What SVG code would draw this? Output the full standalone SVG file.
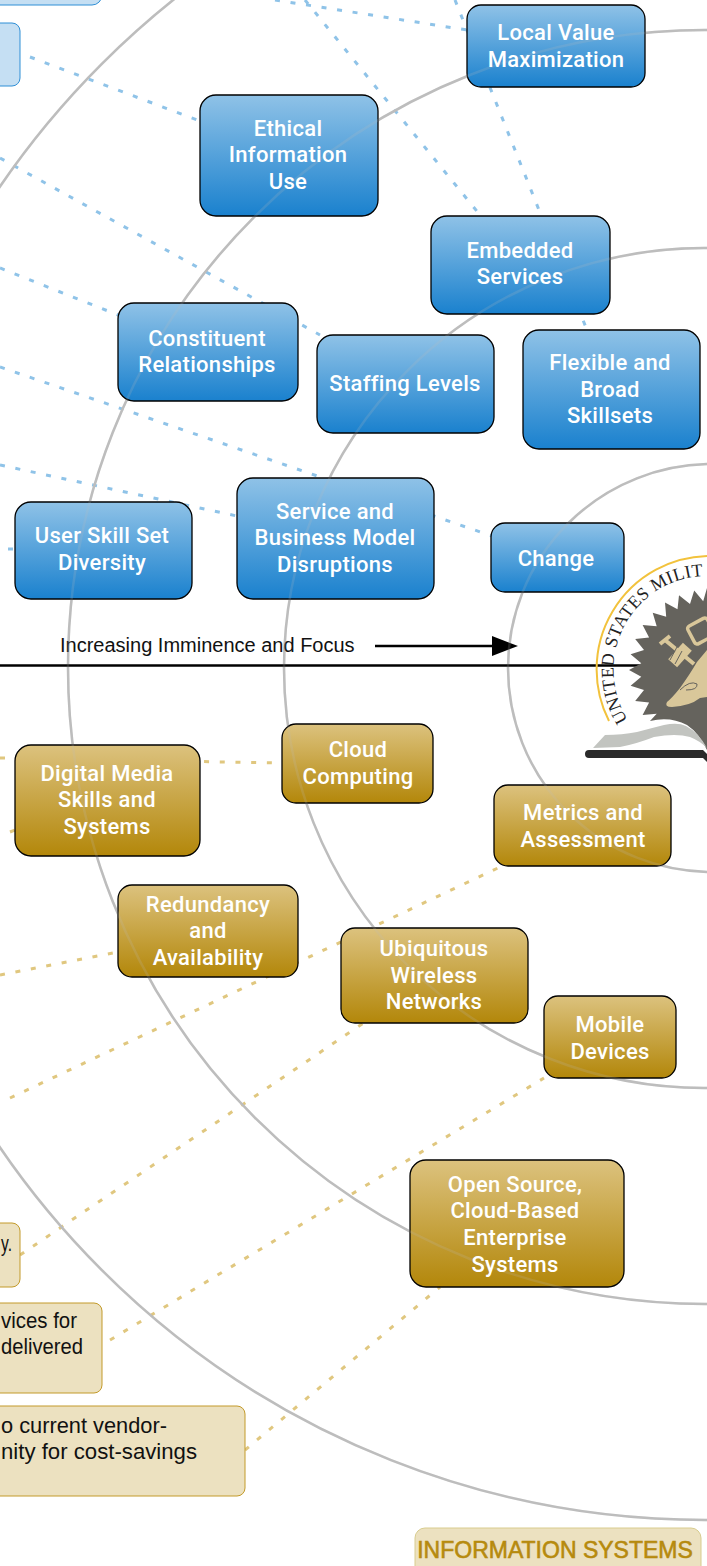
<svg xmlns="http://www.w3.org/2000/svg" width="707" height="1566" viewBox="0 0 707 1566">
<style>
text{font-family:"Liberation Sans",Arial,sans-serif}
.ring{fill:none;stroke:#bdbdbd;stroke-width:2.5}
.b{fill:url(#gb);stroke:#000;stroke-width:1.3}
.g{fill:url(#gg);stroke:#000;stroke-width:1.3}
.lb{fill:#c5dff3;stroke:#2f8fd6;stroke-width:1}
.lg{fill:#ece1c0;stroke:#c39a2a;stroke-width:1}
.t{fill:#fff;font-family:Roboto,"Liberation Sans",sans-serif;font-weight:500;font-size:22px;letter-spacing:.3px;text-anchor:middle}
.n{fill:#111;font-size:22.400px}
.cb{stroke:#8fc3e8;stroke-width:3;stroke-dasharray:5 10.700;fill:none}
.cg{stroke:#e0c77f;stroke-width:3;stroke-dasharray:5 10.700;fill:none}
.seal{font-family:"Liberation Serif",serif;font-size:18px;fill:#222}
.tan{fill:#d9c79a}
</style>
<defs>
<linearGradient id="gb" x1="0" y1="0" x2="0" y2="1"><stop offset="0" stop-color="#8fc2e7"/><stop offset="1" stop-color="#1a81ce"/></linearGradient>
<linearGradient id="gg" x1="0" y1="0" x2="0" y2="1"><stop offset="0" stop-color="#dcc27e"/><stop offset="1" stop-color="#b3870a"/></linearGradient>
<path id="sealArc" d="M628 720A94 94 0 0 1 712 576"/>
</defs>
<rect width="707" height="1566" fill="#fff"/>
<g id="connectors">
<path class="cb" d="M30 57L200 121"/>
<path class="cb" d="M0 158L320 335"/>
<path class="cb" d="M0 268L118 315"/>
<path class="cb" d="M0 367L495 537"/>
<path class="cb" d="M0 465L237 516"/>
<path class="cb" d="M8 549H15"/>
<path class="cb" d="M275 0L467 30"/>
<path class="cb" d="M305 0L480 215"/>
<path class="cb" d="M455 0L587 330"/>
<path class="cg" d="M0 758L282 763"/>
<path class="cg" d="M10 832L15 830"/>
<path class="cg" d="M0 975L118 952"/>
<path class="cg" d="M10 1098L500 867"/>
<path class="cg" d="M20 1255L365 1022"/>
<path class="cg" d="M110 1340L544 1078"/>
<path class="cg" d="M245 1450L440 1287"/>
</g>
<g id="rings">
<circle class="ring" cx="712" cy="668" r="204"/>
<circle class="ring" cx="704" cy="668" r="420"/>
<circle class="ring" cx="705" cy="667" r="637"/>
<circle class="ring" cx="705" cy="667" r="853"/>
</g>
<g id="axis">
<path d="M0 665.500H640" stroke="#000" stroke-width="2.500"/>
<path d="M375 646H495" stroke="#000" stroke-width="2.500"/>
<path d="M492 636L518 646L492 656Z" fill="#000"/>
<text x="60" y="652" font-size="20" fill="#111">Increasing Imminence and Focus</text>
</g>
<g id="seal">
<path d="M609 721A113.500 113.500 0 0 1 707 556" fill="none" stroke="#f2c23c" stroke-width="2"/>
<path fill="#65635d" d="M707 588L703.200 601.300L694.200 590.600L690 604L679 595.200L677.500 609.200L665 602.600L666.200 616.700L652.700 612.700L656.700 626.200L642.600 625L649.100 637.500L635.200 639L644 650L630.600 654.200L641.300 663.200L629 670L641.300 676.800L630.600 685.800L644 690L635.200 701L649.100 702.500L642.600 715L656.700 713.800L650 721Q670 716 687 725Q699 733 707 750Z"/>
<text class="seal"><textPath href="#sealArc" textLength="196" lengthAdjust="spacing">UNITED STATES MILIT</textPath></text>
<path fill="#c2c4c0" d="M593 748L605 735Q622 735 637 732Q652 728 664 725Q678 722 686 726Q698 732 707 748Q700 741 690 737Q676 733 654 737Q636 744 620 747Z"/>
<path fill="#2a2a2a" d="M589 750H703L707 754V762L703 758H589A4 4 0 0 1 589 750Z"/>
<g fill="none" stroke="#d9c79a">
<path stroke-width="4" d="M660 644L670 636M665 640L694 664"/>
<rect x="690" y="621" width="22" height="20" rx="3" stroke-width="3.500" transform="rotate(-28 701 631)"/>
</g>
<rect class="tan" x="674" y="644" width="12" height="22" transform="rotate(42 680 655)"/>
<path d="M677 647L670 660M682 651L675 664" stroke="#65635d" stroke-width="1"/>
<path class="tan" d="M707 650L697 662Q690 674 680 688Q672 698 667 702Q664 707 672 707Q690 706 700 698L707 697Z"/>
<path d="M680 690Q690 680 697 684Q698 690 686 690" fill="none" stroke="#65635d" stroke-width="1"/>
</g>
<g id="n1"><rect class="lb" x="-20" y="-30" width="122" height="35" rx="10"/></g>
<g id="n2"><rect class="lb" x="-20" y="23" width="40" height="63" rx="8"/></g>
<g id="boxes-behind">
<rect class="b" x="467" y="5" width="178" height="82" rx="14"/>
<rect class="b" x="200" y="95" width="178" height="121" rx="16"/>
<rect class="b" x="431" y="216" width="179" height="98" rx="16"/>
<rect class="b" x="118" y="303" width="180" height="98" rx="16"/>
<rect class="b" x="317" y="335" width="177" height="98" rx="16"/>
<rect class="b" x="523" y="330" width="177" height="119" rx="16"/>
<rect class="b" x="15" y="502" width="177" height="97" rx="16"/>
<rect class="b" x="237" y="478" width="197" height="121" rx="16"/>
<rect class="b" x="491" y="523" width="133" height="69" rx="14"/>
<rect class="g" x="282" y="724" width="151" height="79" rx="14"/>
<rect class="g" x="15" y="745" width="185" height="111" rx="16"/>
<rect class="g" x="494" y="785" width="177" height="81" rx="14"/>
<rect class="g" x="118" y="885" width="180" height="92" rx="14"/>
<rect class="g" x="341" y="928" width="187" height="95" rx="14"/>
<rect class="g" x="544" y="996" width="132" height="82" rx="14"/>
<rect class="g" x="410" y="1160" width="214" height="127" rx="16"/>
</g>
<g id="rings-through" opacity=".18">
<circle class="ring" cx="712" cy="668" r="204"/>
<circle class="ring" cx="704" cy="668" r="420"/>
<circle class="ring" cx="705" cy="667" r="637"/>
<circle class="ring" cx="705" cy="667" r="853"/>
</g>
<g id="local"><text class="t" x="556" y="40">Local Value</text><text class="t" x="556" y="67">Maximization</text></g>
<g id="ethical"><text class="t" x="288" y="136">Ethical</text><text class="t" x="288" y="162">Information</text><text class="t" x="288" y="189">Use</text></g>
<g id="embedded"><text class="t" x="520" y="258">Embedded</text><text class="t" x="520" y="284">Services</text></g>
<g id="constituent"><text class="t" x="207" y="346">Constituent</text><text class="t" x="207" y="372">Relationships</text></g>
<g id="staffing"><text class="t" x="405" y="391">Staffing Levels</text></g>
<g id="flexible"><text class="t" x="610" y="370">Flexible and</text><text class="t" x="610" y="397">Broad</text><text class="t" x="610" y="423">Skillsets</text></g>
<g id="userskill"><text class="t" x="102" y="543">User Skill Set</text><text class="t" x="102" y="570">Diversity</text></g>
<g id="service"><text class="t" x="335" y="519">Service and</text><text class="t" x="335" y="545">Business Model</text><text class="t" x="335" y="572">Disruptions</text></g>
<g id="change"><text class="t" x="556" y="566">Change</text></g>
<g id="cloud"><text class="t" x="358" y="757">Cloud</text><text class="t" x="358" y="784">Computing</text></g>
<g id="digital"><text class="t" x="107" y="781">Digital Media</text><text class="t" x="107" y="807">Skills and</text><text class="t" x="107" y="834">Systems</text></g>
<g id="metrics"><text class="t" x="583" y="820">Metrics and</text><text class="t" x="583" y="847">Assessment</text></g>
<g id="redundancy"><text class="t" x="208" y="912">Redundancy</text><text class="t" x="208" y="938">and</text><text class="t" x="208" y="965">Availability</text></g>
<g id="wireless"><text class="t" x="434" y="956">Ubiquitous</text><text class="t" x="434" y="983">Wireless</text><text class="t" x="434" y="1009">Networks</text></g>
<g id="mobile"><text class="t" x="610" y="1032">Mobile</text><text class="t" x="610" y="1059">Devices</text></g>
<g id="opensource"><text class="t" x="515" y="1192">Open Source,</text><text class="t" x="515" y="1218">Cloud-Based</text><text class="t" x="515" y="1245">Enterprise</text><text class="t" x="515" y="1272">Systems</text></g>
<g id="note1"><rect class="lg" x="-20" y="1223" width="40" height="64" rx="8"/><text class="n" x="1" y="1251" textLength="11" lengthAdjust="spacingAndGlyphs">y.</text></g>
<g id="note2"><rect class="lg" x="-20" y="1303" width="122" height="90" rx="8"/><text class="n" x="1" y="1328" textLength="76" lengthAdjust="spacingAndGlyphs">vices for</text><text class="n" x="1" y="1354" textLength="82" lengthAdjust="spacingAndGlyphs">delivered</text></g>
<g id="note3"><rect class="lg" x="-20" y="1406" width="265" height="90" rx="8"/><text class="n" x="1" y="1433" textLength="166" lengthAdjust="spacingAndGlyphs">o current vendor-</text><text class="n" x="1" y="1459" textLength="196" lengthAdjust="spacingAndGlyphs">nity for cost-savings</text></g>
<g id="legend"><rect x="415" y="1528" width="286" height="50" rx="10" fill="#ece1c0" stroke="#d8cc8e"/><text x="555" y="1558" font-size="23" fill="#b68a0e" stroke="#b68a0e" stroke-width=".6" text-anchor="middle">INFORMATION SYSTEMS</text></g>
</svg>
